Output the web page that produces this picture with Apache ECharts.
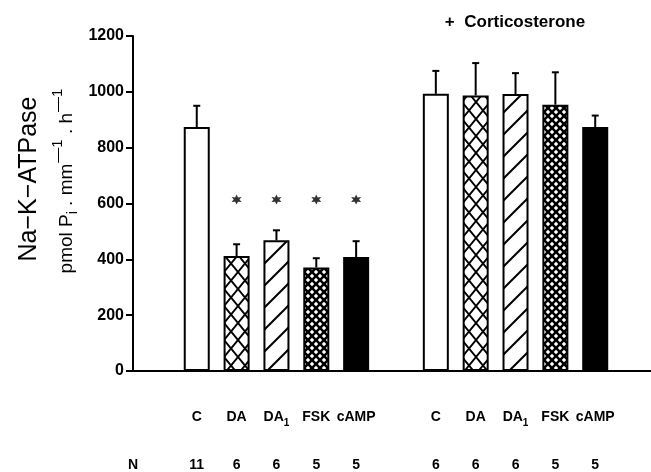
<!DOCTYPE html>
<html><head><meta charset="utf-8">
<script src="https://cdn.jsdelivr.net/npm/echarts@6/dist/echarts.min.js"></script>
<style>html,body{margin:0;padding:0;background:#fff}#c{width:651px;height:472px}</style>
</head><body><div id="c"></div>
<script>
// ---- data ----
const treatments = ['C', 'DA', 'DA1', 'FSK', 'cAMP'];
const meanControl = [874, 412, 468, 371, 408];
const errControl = [76, 42, 36, 33, 57];
const meanCortico = [993, 987, 992, 954, 874];
const errCortico = [82, 116, 75, 116, 41];
const nControl = [11, 6, 6, 5, 5];
const nCortico = [6, 6, 6, 5, 5];
const starControl = [false, true, true, true, true];
const starLevel = 614;
const yMax = 1200, yStep = 200;
const groupTitle = '+  Corticosterone';

// ---- patterns ----
function mk(w, h, draw) {
  const c = document.createElement('canvas'); c.width = w; c.height = h;
  const g = c.getContext('2d'); draw(g, w, h); return c;
}
const patWhite = '#ffffff';
const patCross = mk(14, 17, (g, w, h) => {
  g.fillStyle = '#fff'; g.fillRect(0, 0, w, h);
  g.strokeStyle = '#000'; g.lineWidth = 1.9;
  g.beginPath(); g.moveTo(0, 0); g.lineTo(w, h); g.moveTo(w, 0); g.lineTo(0, h); g.stroke();
});
const patStripe = mk(22, 22, (g, w, h) => {
  g.fillStyle = '#fff'; g.fillRect(0, 0, w, h);
  g.strokeStyle = '#000'; g.lineWidth = 2;
  g.beginPath(); g.moveTo(-2, h + 2); g.lineTo(w + 2, -2);
  g.moveTo(-2 - w, h + 2); g.lineTo(2, -2);
  g.moveTo(w - 2, h + 2); g.lineTo(2 * w + 2, -2); g.stroke();
});
const patFine = mk(8, 8, (g, w, h) => {
  g.fillStyle = '#000'; g.fillRect(0, 0, w, h);
  g.fillStyle = '#fff';
  const d = (cx, cy) => { g.beginPath(); g.moveTo(cx, cy - 2.2); g.lineTo(cx + 2.2, cy); g.lineTo(cx, cy + 2.2); g.lineTo(cx - 2.2, cy); g.closePath(); g.fill(); };
  d(4, 0); d(4, 8); d(0, 4); d(8, 4);
});
const patBlack = '#000000';
const fills = [patWhite, { image: patCross, repeat: 'repeat' }, { image: patStripe, repeat: 'repeat' }, { image: patFine, repeat: 'repeat' }, patBlack];

// ---- build ----
const groupOffset = [0, 6];
const means = [meanControl, meanCortico];
const errs = [errControl, errCortico];
const barData = [], errData = [], starData = [], labelPos = [], nPos = [];
const labelMap = {}, nMap = {};
means.forEach((arr, gi) => {
  arr.forEach((v, i) => {
    const x = groupOffset[gi] + i;
    barData.push({ value: [x, v], itemStyle: { color: fills[i] } });
    errData.push([x, v, v + errs[gi][i]]);
    labelPos.push(x); labelMap[x] = treatments[i];
    nPos.push(x); nMap[x] = String((gi === 0 ? nControl : nCortico)[i]);
  });
});
starControl.forEach((s, i) => { if (s) starData.push([groupOffset[0] + i, starLevel]); });
const xMin = -1.6, xMax = 11.4;
nPos.unshift(xMin); nMap[xMin] = 'N';

const font = 'Liberation Sans, Arial, Helvetica, sans-serif';
const chart = echarts.init(document.getElementById('c'), null, { renderer: 'canvas' });
chart.setOption({
  animation: false,
  backgroundColor: '#fff',
  grid: { left: 133, right: 0, top: 36, bottom: 100 },
  xAxis: [
    { type: 'value', min: xMin, max: xMax, axisLine: { show: true, onZero: false, lineStyle: { color: '#000', width: 2 } },
      axisTick: { show: false }, axisLabel: { show: false }, splitLine: { show: false } },
    { type: 'value', min: xMin, max: xMax, position: 'bottom', axisLine: { show: false, onZero: false }, axisTick: { show: false }, splitLine: { show: false },
      axisLabel: { customValues: labelPos, margin: 39, showMinLabel: true, showMaxLabel: true,
        formatter: v => { const t = labelMap[v]; return t === 'DA1' ? '{n|DA}{s|1}' : '{n|' + t + '}'; },
        rich: { n: { fontFamily: font, fontWeight: 'bold', fontSize: 14, color: '#000', lineHeight: 14, verticalAlign: 'top' },
                s: { fontFamily: font, fontWeight: 'bold', fontSize: 10, color: '#000', lineHeight: 10, verticalAlign: 'top', padding: [8, 0, 0, 0] } } } },
    { type: 'value', min: xMin, max: xMax, position: 'bottom', axisLine: { show: false, onZero: false }, axisTick: { show: false }, splitLine: { show: false },
      axisLabel: { customValues: nPos, margin: 87, showMinLabel: true, showMaxLabel: true,
        formatter: v => nMap[v], fontFamily: font, fontWeight: 'bold', fontSize: 14, color: '#000' } }
  ],
  yAxis: {
    type: 'value', min: 0, max: yMax, interval: yStep,
    axisLine: { show: true, onZero: false, lineStyle: { color: '#000', width: 2 } },
    axisTick: { show: true, length: 7, lineStyle: { color: '#000', width: 2 } },
    axisLabel: { margin: 9, fontFamily: font, fontWeight: 'bold', fontSize: 16, color: '#000', formatter: v => String(v) },
    splitLine: { show: false }
  },
  graphic: [
    { type: 'text', x: 29, y: 179, rotation: Math.PI / 2,
      style: { text: 'Na−K−ATPase', font: '25px ' + font, fill: '#000', align: 'center', verticalAlign: 'middle' } },
    { type: 'text', x: 60, y: 181, rotation: Math.PI / 2,
      style: { text: '{a|pmol P}{b|i}{a| . mm}{c|—1}{a| . h}{c|—1}', align: 'center', verticalAlign: 'middle',
        rich: { a: { font: '19px ' + font, fill: '#000', lineHeight: 19, verticalAlign: 'top', padding: [7, 0, 0, 0] },
                b: { font: '14px ' + font, fill: '#000', lineHeight: 14, verticalAlign: 'top', padding: [16, 0, 0, 0] },
                c: { font: '15px ' + font, fill: '#000', lineHeight: 15, verticalAlign: 'top', padding: [0, 0, 0, 1] } } } },
    { type: 'text', x: 515, y: 22, style: { text: groupTitle, font: 'bold 17px ' + font, fill: '#000', align: 'center', verticalAlign: 'middle' } }
  ],
  series: [
    { type: 'bar', data: barData, barWidth: 26, itemStyle: { borderColor: '#000', borderWidth: 2 }, z: 2 },
    { type: 'custom', data: errData, z: 3,
      renderItem: (params, api) => {
        const p0 = api.coord([api.value(0), api.value(1)]);
        const p1 = api.coord([api.value(0), api.value(2)]);
        return { type: 'group', children: [
          { type: 'line', shape: { x1: p0[0], y1: p0[1], x2: p1[0], y2: p1[1] }, style: { stroke: '#000', lineWidth: 2 } },
          { type: 'line', shape: { x1: p1[0] - 3.5, y1: p1[1], x2: p1[0] + 3.5, y2: p1[1] }, style: { stroke: '#000', lineWidth: 2 } }
        ] };
      } },
    { type: 'scatter', data: starData,
      symbol: 'path://M50,0L62.5,28.3L93.3,25L75,50L93.3,75L62.5,71.7L50,100L37.5,71.7L6.7,75L25,50L6.7,25L37.5,28.3Z',
      symbolSize: 10, itemStyle: { color: '#000' }, z: 4 }
  ]
});
</script></body></html>
